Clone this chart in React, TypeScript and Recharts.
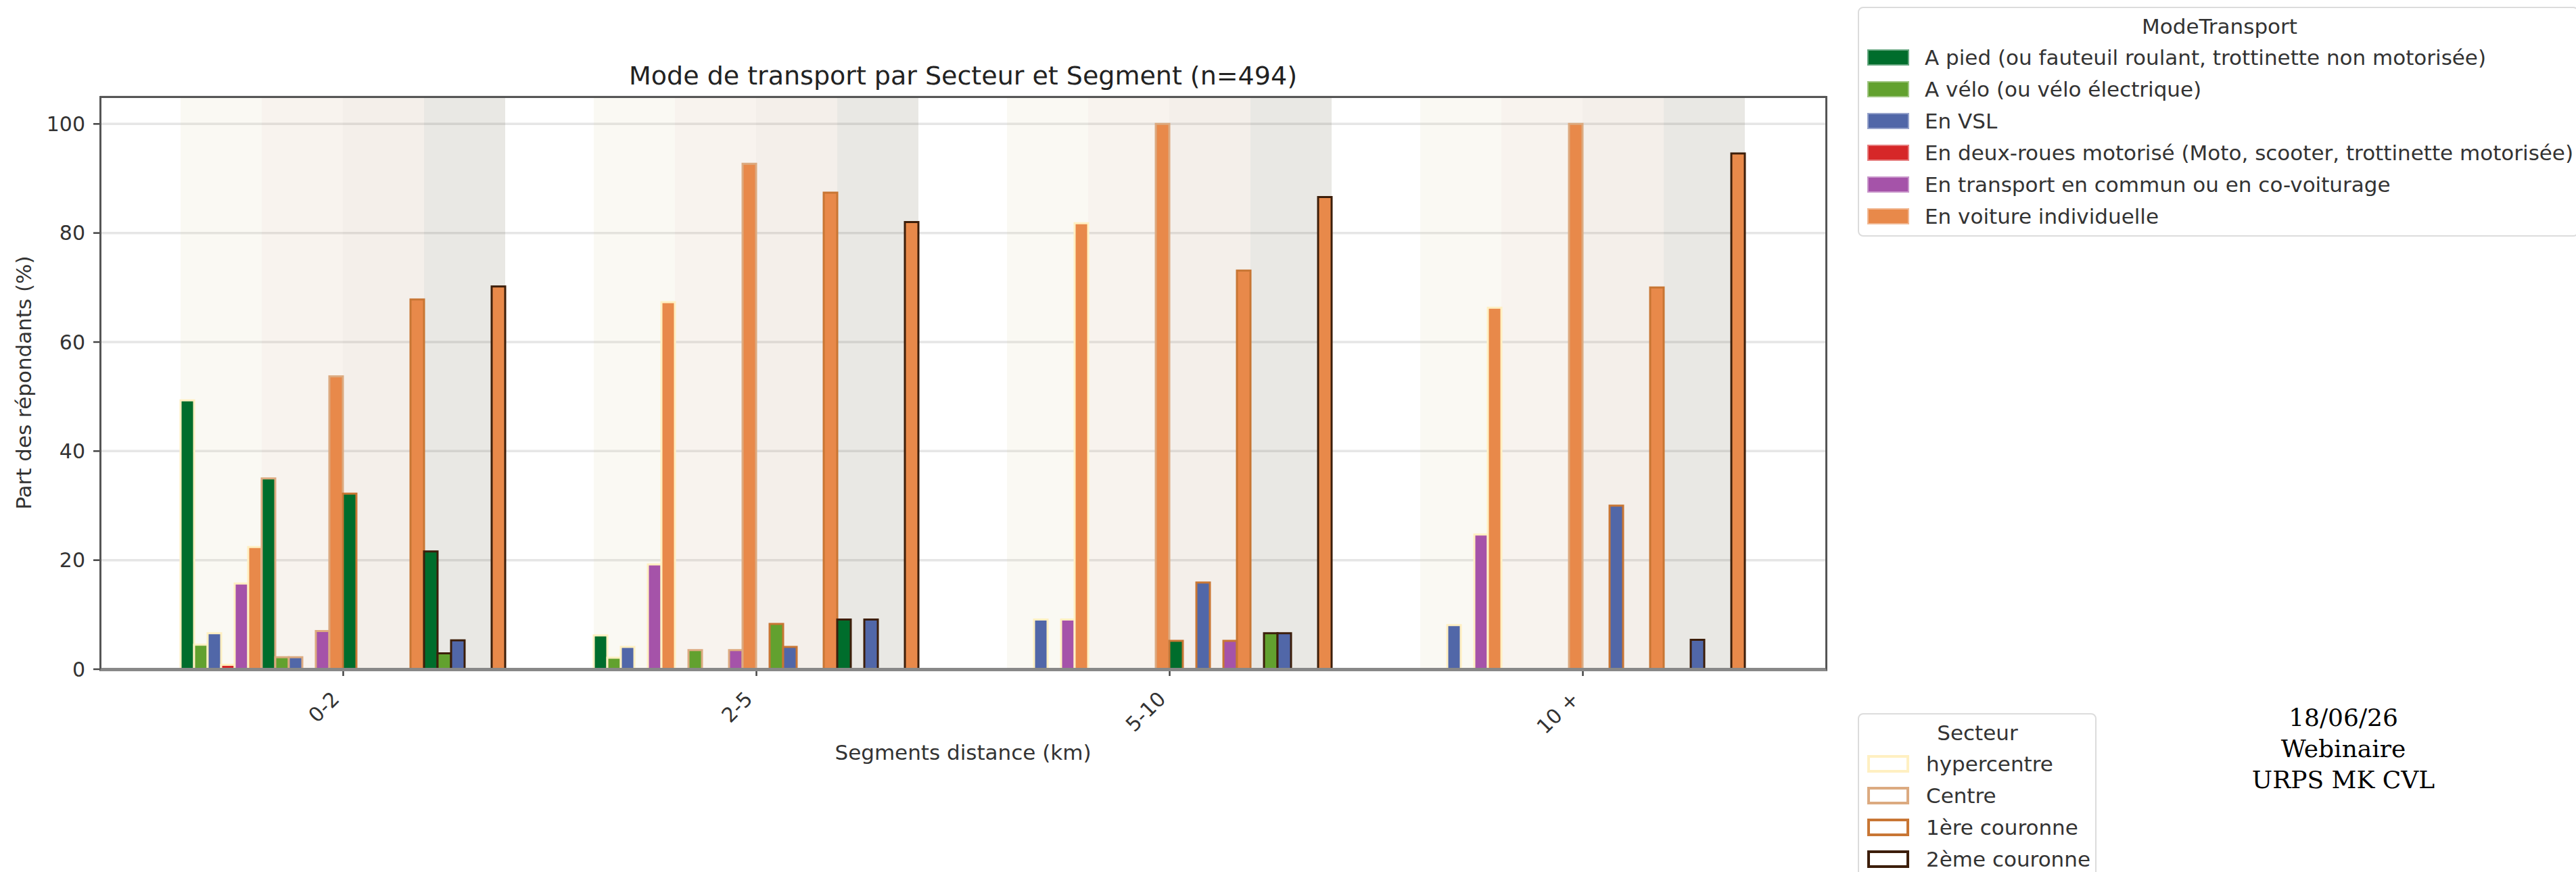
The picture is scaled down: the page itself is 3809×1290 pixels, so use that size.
import React from 'react'
import { BarChart, Bar, XAxis, YAxis, CartesianGrid } from 'recharts'

const segments = ['0-2', '2-5', '5-10', '10 +']
const modes = [
  'A pied (ou fauteuil roulant, trottinette non motorisée)',
  'A vélo (ou vélo électrique)',
  'En VSL',
  'En deux-roues motorisé (Moto, scooter, trottinette motorisée)',
  'En transport en commun ou en co-voiturage',
  'En voiture individuelle',
]
const secteurs = ['hypercentre', 'Centre', '1ère couronne', '2ème couronne']

// part des répondants (%) : une ligne par segment, une colonne par mode
const hypercentre = [
  [49.3, 4.5, 6.6, 0.8, 15.7, 22.4],
  [6.2, 2.1, 4.1, 0, 19.2, 67.3],
  [0, 0, 9.1, 0, 9.1, 81.8],
  [0, 0, 8.1, 0, 24.7, 66.3],
]
const centre = [
  [35.0, 2.2, 2.2, 0, 7.0, 53.7],
  [0, 3.5, 0, 0, 3.5, 92.7],
  [0, 0, 0, 0, 0, 100],
  [0, 0, 0, 0, 0, 100],
]
const premiereCouronne = [
  [32.2, 0, 0, 0, 0, 67.8],
  [0, 8.3, 4.1, 0, 0, 87.4],
  [5.2, 0, 15.9, 0, 5.2, 73.1],
  [0, 0, 30.0, 0, 0, 70.0],
]
const deuxiemeCouronne = [
  [21.6, 2.9, 5.3, 0, 0, 70.2],
  [9.1, 0, 9.1, 0, 0, 82.0],
  [0, 6.6, 6.6, 0, 0, 86.6],
  [0, 0, 5.4, 0, 0, 94.6],
]
const yTicks = [0, 20, 40, 60, 80, 100]
const yMax = 105

const modeColors = ['#006d2c', '#62a12f', '#5167a8', '#d62728', '#a553a9', '#e8894a']
const secteurEdges = ['#fff0c2', '#dcaa80', '#c87634', '#3c1e0a']
const secteurBands = [
  'rgba(222,215,175,0.15)',
  'rgba(208,175,142,0.15)',
  'rgba(182,148,115,0.15)',
  'rgba(108,102,75,0.15)',
]

const valuesBySecteur = [hypercentre, centre, premiereCouronne, deuxiemeCouronne]

const data = segments.map((seg, i) => {
  const row: Record<string, number | string> = { segment: seg }
  valuesBySecteur.forEach((vals, s) => {
    row[`band${s}`] = yMax
    vals[i].forEach((v, m) => {
      row[`s${s}m${m}`] = v
    })
  })
  return row
})

const FONT = '"DejaVu Sans", sans-serif'

const XTick = ({ x, y, payload }: any) => (
  <g transform={`translate(${x - 4},${y + 36})`}>
    <text
      transform="rotate(-45)"
      textAnchor="end"
      fontSize={30}
      fontFamily={FONT}
      fill="#333"
    >
      {payload.value}
    </text>
  </g>
)

const abs = (left: number, top: number, extra: React.CSSProperties = {}): React.CSSProperties => ({
  position: 'absolute',
  left,
  top,
  whiteSpace: 'nowrap',
  lineHeight: 1,
  ...extra,
})

export default function App() {
  return (
    <div
      style={{
        position: 'absolute',
        left: 0,
        top: 0,
        width: 3809,
        height: 1290,
        overflow: 'hidden',
        background: '#fff',
        fontFamily: FONT,
      }}
    >
      <BarChart
        width={2720}
        height={1290}
        data={data}
        margin={{ top: 143, right: 20, left: 68, bottom: 240 }}
        barGap={0}
        barCategoryGap={65}
      >
        <CartesianGrid vertical={false} stroke="#e6e6e6" strokeWidth={3.5} />
        <XAxis
          dataKey="segment"
          height={60}
          padding={{ left: 54, right: 54 }}
          axisLine={false}
          tickLine={{ stroke: '#444', strokeWidth: 2.5 }}
          tickSize={10}
          tickMargin={0}
          tick={<XTick />}
          interval={0}
        />
        <XAxis xAxisId="bands" dataKey="segment" hide padding={{ left: 54, right: 54 }} />
        <YAxis
          width={80}
          domain={[0, yMax]}
          ticks={yTicks}
          axisLine={false}
          tickLine={{ stroke: '#444', strokeWidth: 2.5 }}
          tickSize={10}
          tickMargin={12}
          tick={{ fontSize: 30, fontFamily: FONT, fill: '#333' }}
        />
        {/* fonds par secteur */}
        {secteurs.map((label, s) => (
          <Bar
            key={`band${s}`}
            xAxisId="bands"
            dataKey={`band${s}`}
            name={label}
            fill={secteurBands[s]}
            isAnimationActive={false}
          />
        ))}
        {secteurs.map((_, s) =>
          modes.map((_, m) => (
            <Bar
              key={`s${s}m${m}`}
              dataKey={`s${s}m${m}`}
              fill={modeColors[m]}
              stroke={secteurEdges[s]}
              strokeWidth={3}
              isAnimationActive={false}
            />
          ))
        )}
      </BarChart>

      {/* cadre du graphique */}
      <div
        style={{
          position: 'absolute',
          left: 146.5,
          top: 141.5,
          width: 2555,
          height: 851,
          boxSizing: 'border-box',
          borderTop: '3px solid #555',
          borderLeft: '3px solid #555',
          borderRight: '3px solid #555',
          borderBottom: '5px solid #888',
          pointerEvents: 'none',
        }}
      />

      <div style={abs(1424, 112, { transform: 'translate(-50%,-50%)', fontSize: 38, color: '#222' })}>
        Mode de transport par Secteur et Segment (n=494)
      </div>
      <div style={abs(35, 566, { transform: 'translate(-50%,-50%) rotate(-90deg)', fontSize: 31, color: '#333' })}>
        Part des répondants (%)
      </div>
      <div style={abs(1424, 1113, { transform: 'translate(-50%,-50%)', fontSize: 31, color: '#333' })}>
        Segments distance (km)
      </div>

      {/* légende des modes */}
      <div
        style={{
          position: 'absolute',
          left: 2747,
          top: 10,
          width: 1066,
          height: 340,
          boxSizing: 'border-box',
          border: '2px solid #dcdcdc',
          borderRadius: 8,
          background: '#fff',
        }}
      >
        <div style={abs(533, 27, { transform: 'translate(-50%,-50%)', fontSize: 31, color: '#333' })}>
          ModeTransport
        </div>
        {modes.map((label, i) => (
          <React.Fragment key={label}>
            <div
              style={abs(12, 73 + 47 * i - 12, {
                width: 62,
                height: 24,
                boxSizing: 'border-box',
                background: modeColors[i],
                border: '2px solid rgba(255,255,255,0.4)',
              })}
            />
            <div style={abs(97, 73 + 47 * i, { transform: 'translateY(-50%)', fontSize: 31, color: '#333' })}>
              {label}
            </div>
          </React.Fragment>
        ))}
      </div>

      {/* légende des secteurs */}
      <div
        style={{
          position: 'absolute',
          left: 2747,
          top: 1055,
          width: 353,
          height: 260,
          boxSizing: 'border-box',
          border: '2px solid #dcdcdc',
          borderRadius: 8,
          background: '#fff',
        }}
      >
        <div style={abs(175, 27, { transform: 'translate(-50%,-50%)', fontSize: 31, color: '#333' })}>
          Secteur
        </div>
        {secteurs.map((label, i) => (
          <React.Fragment key={label}>
            <div
              style={abs(12, 73 + 47 * i - 13, {
                width: 62,
                height: 26,
                boxSizing: 'border-box',
                background: '#fff',
                border: `4px solid ${secteurEdges[i]}`,
              })}
            />
            <div style={abs(99, 73 + 47 * i, { transform: 'translateY(-50%)', fontSize: 31, color: '#333' })}>
              {label}
            </div>
          </React.Fragment>
        ))}
      </div>

      <div
        style={{
          position: 'absolute',
          left: 3465,
          top: 1039,
          transform: 'translateX(-50%)',
          fontFamily: '"DejaVu Serif", serif',
          fontSize: 36,
          lineHeight: '46px',
          textAlign: 'center',
          whiteSpace: 'nowrap',
          color: '#000',
        }}
      >
        18/06/26
        <br />
        Webinaire
        <br />
        URPS MK CVL
      </div>
    </div>
  )
}
